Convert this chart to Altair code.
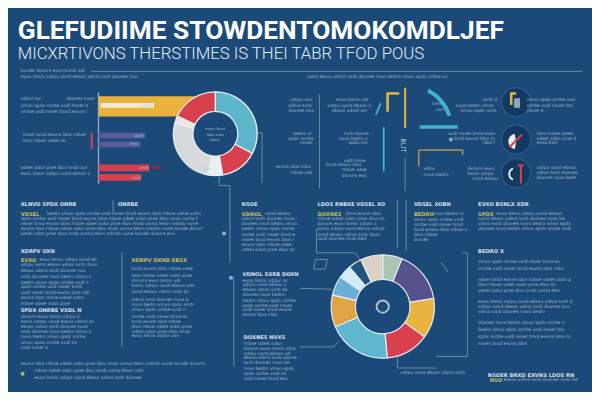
import altair as alt
import pandas as pd

W, H = 584, 384
SX, SY = W / 600.0, H / 400.0


def px(v):
    return v * SX


def py(v):
    return v * SY


BG = "#1b4a79"

# ---------------- chart values ----------------
title_text = "GLEFUDIIME STOWDENTOMOKOMDLJEF"
subtitle_text = "MICXRTIVONS THERSTIMES IS THEI TABR TFOD POUS"

bar_names = ["Bxnde", "Ovrsa", "Ovrsb", "Dxnla", "Dxnlb"]
bar_values = [100, 47, 42, 51, 43]
bar_groups = ["yellow", "purple", "purple", "red", "red"]
inner_bar_value = 56

donut1_groups = ["teal", "red", "pale", "gray", "cream", "red"]
donut1_values = [118, 52, 20, 95, 10, 65]

donut2_groups = ["sage", "indigo", "amber", "red", "sky", "orange", "azure", "ice", "deep", "sand"]
donut2_values = [22, 59, 45, 49, 72, 36, 22, 15, 15, 25]

palette = {
    "yellow": "#e8b23c", "purple": "#5a5b9c", "red": "#d8404e", "barwhite": "#f1e9d6",
    "teal": "#5db5cb", "pale": "#edf0f1", "gray": "#d7d9dc", "cream": "#eee5da",
    "sage": "#a8c5b1", "indigo": "#54518b", "amber": "#e8b43e", "sky": "#5fb7cf",
    "orange": "#dea445", "azure": "#6aaed6", "ice": "#d3ebf5", "deep": "#24527f",
    "sand": "#dad1c4", "body": "#b6c6d7", "head": "#e4ebf3", "ytext": "#d6c45c",
    "ltext": "#9fd0e6", "line": "#7f98b3", "axis": "#9aaec4", "tealline": "#3db4d2",
    "gold": "#e2b63e", "bronze": "#b8914e", "darkred": "#9c2445", "icongray": "#8ea3bd",
    "iconbg": "#143961", "white": "#eef3f7", "green": "#9cc35a",
}

FILL_WORDS = ("bxnde dxnvrs evxo bsnlx xdrpv oxnd ebsxo vdnol sxrb doxnes nvxs bedro "
              "xlnvo spdx onrbe vxdl nsoer brxd exvns ldos rnbxe vdsel xobn prxe dlvo "
              "snxb ovrsa telxn mbrdo xvne")


def filler(seed, nchars, upper=False):
    src = FILL_WORDS + " " + FILL_WORDS + " " + FILL_WORDS
    start = (seed * 13) % 120
    while start > 0 and src[start - 1] != " ":
        start += 1
    s = src[start:start + max(nchars, 2)].strip()
    return s.upper() if upper else s


# ---------------- layout (reference pixel coordinates) ----------------
body_rows = [
    (13, 83, 66), (13, 140, 72), (307, 460, 72),
    (13, 35, 95), (60, 88, 95), (13, 88, 102), (13, 88, 108),
    (15, 85, 132), (15, 63, 139), (13, 88, 167), (13, 88, 173),
    (290, 313, 96), (288, 313, 102), (288, 313, 107), (293, 313, 131),
    (288, 313, 136), (300, 313, 141), (275, 313, 166), (290, 313, 172),
    (337, 374, 96), (328, 374, 102), (333, 372, 107), (345, 371, 131), (340, 371, 136),
    (350, 371, 141), (345, 369, 159), (327, 369, 164), (343, 370, 169), (343, 369, 175),
    (436, 446, 100), (440, 447, 106),
    (488, 503, 96), (460, 503, 102), (465, 503, 107), (452, 504, 131), (458, 504, 136),
    (488, 504, 141), (472, 504, 168), (472, 504, 173), (477, 504, 178), (427, 437, 168),
    (427, 452, 174),
    (533, 585, 96), (533, 585, 102), (533, 550, 107), (543, 585, 131), (543, 588, 136),
    (543, 565, 141), (543, 588, 167), (543, 588, 172), (543, 585, 177),
    (40, 212, 215), (13, 212, 220), (13, 212, 225), (13, 212, 230), (13, 180, 235),
    (32, 95, 263),
]
for yy, x1 in zip([268, 274, 280, 286, 291, 297, 302, 308, 322, 327, 332, 338, 343, 349, 354],
                  [95, 82, 90, 88, 80, 90, 85, 70, 78, 92, 88, 90, 85, 75, 45]):
    body_rows.append((13, x1, yy))
for yy, x1 in zip([272, 279, 284, 290, 296, 304, 309, 315, 322, 327, 332, 337, 342],
                  [193, 195, 182, 195, 190, 188, 195, 187, 190, 182, 195, 193, 178]):
    body_rows.append((127, x1, yy))
body_rows.append((264, 289, 215))
for yy, x1 in zip([220, 225, 230, 236, 242, 247, 252], [300, 298, 300, 298, 300, 295, 298]):
    body_rows.append((240, x1, yy))
for yy, x1 in zip([284, 289, 294, 299, 305, 310, 315, 320], [290, 288, 290, 286, 297, 295, 297, 280]):
    body_rows.append((241, x1, yy))
for yy, x1 in zip([350, 355, 360, 365, 370, 376, 381, 386], [285, 298, 292, 298, 290, 298, 288, 292]):
    body_rows.append((242, x1, yy))
body_rows.append((347, 385, 215))
for yy, x1 in zip([220, 225, 230, 236, 241], [392, 383, 392, 385, 370]):
    body_rows.append((318, x1, yy))
body_rows.append((437, 470, 215))
for yy, x1 in zip([221, 226, 231, 236, 242], [472, 470, 475, 445, 432]):
    body_rows.append((417, x1, yy))
body_rows.append((502, 575, 215))
for yy, x1 in zip([220, 225, 230, 265, 272, 283, 289, 295, 306, 311, 317, 328, 335, 343, 350],
                  [575, 583, 585, 572, 578, 585, 570, 576, 585, 582, 557, 575, 578, 585, 540]):
    body_rows.append((483, x1, yy))
body_rows += [(13, 213, 371), (27, 148, 378), (27, 145, 385), (403, 472, 380), (509, 588, 388)]

centre_rows = [(202, 225, 126), (204, 223, 132), (207, 220, 138)]

label_rows = [(137, 150, 102), (130, 140, 133), (125, 135, 142), (135, 145, 167),
              (127, 137, 177), (200, 211, 168)]

header_rows = [(13, 72, 204), (113, 137, 204), (240, 257, 204), (318, 393, 204), (417, 455, 204),
               (483, 538, 204), (13, 48, 253), (241, 298, 277), (242, 286, 343), (483, 509, 253),
               (13, 78, 315), (493, 588, 382)]

yellow_rows = [(13, 38, 215), (13, 30, 263), (127, 187, 263), (240, 262, 215), (318, 345, 215),
               (417, 435, 215), (483, 500, 215), (495, 507, 388)]

line_style = {
    "line": ("line", 0.8), "axis": ("axis", 1.3), "yellow": ("gold", 2.6), "yellowthin": ("gold", 2.0),
    "teal": ("tealline", 1.8), "tealthick": ("tealline", 3.5), "bronze": ("bronze", 1.5),
    "red": ("red", 2.0), "darkred": ("darkred", 3.0), "icongray": ("icongray", 6.0),
}
segments = [
    (85, 66, 590, 66, "line"), (93, 88, 93, 183, "axis"),
    (217, 173, 217, 185, "line"), (217, 185, 228, 185, "line"), (228, 185, 228, 200, "line"),
    (256, 130, 261, 130, "line"), (261, 130, 261, 182, "line"), (320, 90, 320, 188, "line"),
    (390, 89, 390, 108, "yellow"), (389, 89, 402, 89, "yellow"), (408, 83, 408, 125, "yellowthin"),
    (386, 124, 386, 170, "teal"), (378, 111, 383, 99, "teal"), (408, 156, 408, 190, "line"),
    (423, 124, 462, 124, "tealthick"),
    (422, 148, 467, 148, "bronze"), (422, 148, 422, 165, "bronze"), (467, 148, 467, 153, "bronze"),
    (86, 130, 86, 147, "red"), (148, 166, 157, 166, "darkred"),
    (108, 200, 108, 213, "line"), (117, 255, 117, 353, "line"), (228, 200, 228, 265, "line"),
    (232, 280, 232, 373, "line"), (400, 200, 400, 250, "line"), (409, 200, 409, 253, "line"),
    (317, 230, 317, 255, "line"), (317, 255, 357, 255, "line"), (357, 255, 362, 263, "line"),
    (300, 292, 333, 293, "line"), (300, 353, 335, 353, "line"), (335, 353, 340, 347, "line"),
    (400, 360, 400, 375, "line"), (400, 375, 440, 375, "line"),
    (472, 255, 472, 363, "line"), (440, 363, 472, 363, "line"), (467, 255, 472, 255, "line"),
    (445, 265, 452, 275, "line"),
    (316, 262, 328, 262, "line"), (328, 262, 326, 272, "line"), (314, 272, 326, 272, "line"),
    (316, 262, 314, 272, "line"),
]
icon_segments = [
    (517, 89, 517, 101, "yellow"), (516, 89, 522, 89, "yellow"), (523, 94, 523, 104, "icongray"),
    (515, 145, 528, 132, "red"), (527, 164, 527, 183, "red"), (524, 164, 530, 164, "red"),
]
icon_centers = [(522, 98), (522, 137), (522, 172)]
nodes = [(222, 235, "axis"), (229, 281, "axis"), (455, 137, "icongray"), (15, 381, "green")]
bar_y = [(92, 113), (130, 136), (139, 145), (163, 170), (173, 180)]
inner_bar_y = (99, 104)

# ---------------- build tables ----------------
FS_BODY = 4.6 * SX
FS_HEAD = 5.3 * SX


def text_table(rows, kind, fs, em, upper, seed0):
    out = []
    for k, (x0, x1, y) in enumerate(rows):
        n = int(round((x1 - x0) * SX / (em * fs)))
        out.append({"x": x0, "y": y, "t": filler(seed0 + k, n, upper), "c": kind, "fs": fs})
    return pd.DataFrame(out)


body_df = pd.concat([text_table(body_rows, "body", FS_BODY, 0.56, False, 0),
                     text_table(centre_rows, "body", FS_BODY * 0.85, 0.56, False, 7),
                     text_table(label_rows, "ltext", FS_BODY * 0.9, 0.56, False, 3)])
head_df = pd.concat([text_table(header_rows, "head", FS_HEAD, 0.74, True, 5),
                     text_table(yellow_rows, "ytext", FS_HEAD, 0.74, True, 9)])


def seg_table(segs):
    return pd.DataFrame([{"x0": a, "y0": b, "x1": c, "y1": d, "c": line_style[k][0], "w": line_style[k][1]}
                         for a, b, c, d, k in segs])


seg_df = seg_table(segments)
icon_seg_df = seg_table(icon_segments)

bars_df = pd.DataFrame({
    "name": bar_names + ["inner"],
    "v": bar_values + [inner_bar_value],
    "s": [0] * len(bar_values) + [2],
    "c": bar_groups + ["barwhite"],
    "y0": [a for a, b in bar_y] + [inner_bar_y[0]],
    "y1": [b for a, b in bar_y] + [inner_bar_y[1]],
})
d1 = pd.DataFrame({"i": range(len(donut1_values)), "v": donut1_values, "c": donut1_groups})
d2 = pd.DataFrame({"i": range(len(donut2_values)), "v": donut2_values, "c": donut2_groups})

# ---------------- encodings ----------------
XS = alt.Scale(domain=[0, 600], nice=False, zero=False)
YS = alt.Scale(domain=[0, 400], nice=False, zero=False, reverse=True)
CS = alt.Scale(domain=list(palette.keys()), range=list(palette.values()))
COL = alt.Color("c:N", scale=CS, legend=None)


def ex(f):
    return alt.X(f, type="quantitative", scale=XS, axis=None)


def ey(f):
    return alt.Y(f, type="quantitative", scale=YS, axis=None)


title = alt.Chart(pd.DataFrame({"x": [10], "y": [24], "t": [title_text]})).mark_text(
    align="left", baseline="middle", font="Roboto", fontWeight="bold", fontSize=27 * SX, color="#ffffff"
).encode(x=ex("x"), y=ey("y"), text="t:N")

subtitle = alt.Chart(pd.DataFrame({"x": [10], "y": [48], "t": [subtitle_text]})).mark_text(
    align="left", baseline="middle", font="Roboto", fontWeight=300, fontSize=17.2 * SX, color="#e6edf5"
).encode(x=ex("x"), y=ey("y"), text="t:N")

rules = alt.Chart(seg_df).mark_rule(strokeCap="butt").encode(
    x=ex("x0"), y=ey("y0"), x2=alt.X2("x1"), y2=alt.Y2("y1"), color=COL,
    strokeWidth=alt.StrokeWidth("w:Q", scale=None))

bars = alt.Chart(bars_df).mark_rect().encode(
    x=alt.X("v:Q", scale=alt.Scale(domain=[0, 100], range=[px(93), px(195)], nice=False, zero=False), axis=None),
    x2=alt.X2("s"), y=ey("y0"), y2=alt.Y2("y1"), color=COL)

donut1 = alt.Chart(d1).mark_arc(radius=px(43), radius2=px(23), stroke="#e9eef3", strokeWidth=1.3).encode(
    theta=alt.Theta("v:Q", stack=True), order=alt.Order("i:Q"), color=COL,
    x=alt.value(px(213)), y=alt.value(py(131)))

donut2 = alt.Chart(d2).mark_arc(radius=px(53), radius2=px(28), stroke="#e3ecf2", strokeWidth=1.2).encode(
    theta=alt.Theta("v:Q", stack=True), order=alt.Order("i:Q"), color=COL,
    x=alt.value(px(385)), y=alt.value(py(311)))

one = pd.DataFrame({"k": [0]})
teal_arc = alt.Chart(one).mark_arc(radius=px(48), radius2=px(44), color=palette["tealline"]).encode(
    theta=alt.value(0.49), theta2=alt.value(1.25), x=alt.value(px(410)), y=alt.value(py(127)))

ring = alt.Chart(one).mark_point(shape="circle", filled=False, color="#eef3f7", strokeWidth=2, size=150).encode(
    x=alt.value(px(385)), y=alt.value(py(311)))

icon_bg = alt.Chart(pd.DataFrame(icon_centers, columns=["x", "y"])).mark_circle(
    color=palette["iconbg"], opacity=1, stroke="#285783", strokeWidth=1.5).encode(
    x=ex("x"), y=ey("y"), size=alt.value((2 * px(15)) ** 2))

icon_arc2 = alt.Chart(one).mark_arc(radius=px(8), radius2=0, color="#e9eef3").encode(
    theta=alt.value(3.3), theta2=alt.value(6.1), x=alt.value(px(522)), y=alt.value(py(139)))
icon_arc3 = alt.Chart(one).mark_arc(radius=px(7), radius2=px(5), color="#e9eef3").encode(
    theta=alt.value(3.5), theta2=alt.value(5.9), x=alt.value(px(521)), y=alt.value(py(173)))

icon_rules = alt.Chart(icon_seg_df).mark_rule(strokeCap="butt").encode(
    x=ex("x0"), y=ey("y0"), x2=alt.X2("x1"), y2=alt.Y2("y1"), color=COL,
    strokeWidth=alt.StrokeWidth("w:Q", scale=None))

node_pts = alt.Chart(pd.DataFrame(nodes, columns=["x", "y", "c"])).mark_circle(opacity=1).encode(
    x=ex("x"), y=ey("y"), color=COL, size=alt.value(16))

rot = alt.Chart(pd.DataFrame({"x": [406], "y": [143], "t": ["BLIT"]})).mark_text(
    angle=90, font="DejaVu Sans", fontSize=6.5, color="#c8d4e0", baseline="middle", align="center"
).encode(x=ex("x"), y=ey("y"), text="t:N")

body_text = alt.Chart(body_df).mark_text(
    align="left", baseline="middle", font="DejaVu Sans", opacity=0.85
).encode(x=ex("x"), y=ey("y"), text="t:N", color=COL, size=alt.Size("fs:Q", scale=None))

head_text = alt.Chart(head_df).mark_text(
    align="left", baseline="middle", font="DejaVu Sans", fontWeight="bold", opacity=0.92
).encode(x=ex("x"), y=ey("y"), text="t:N", color=COL, size=alt.Size("fs:Q", scale=None))

chart = alt.layer(
    title, subtitle, rules, bars, donut1, donut2, teal_arc, ring, icon_bg, icon_arc2, icon_arc3,
    icon_rules, node_pts, rot, body_text, head_text
).resolve_scale(x="independent").properties(
    width=W, height=H, padding=0, autosize=alt.AutoSizeParams(type="none")
).configure(background=BG).configure_view(stroke=None)

chart.save("out.html", embed_options={"renderer": "svg", "actions": False})
